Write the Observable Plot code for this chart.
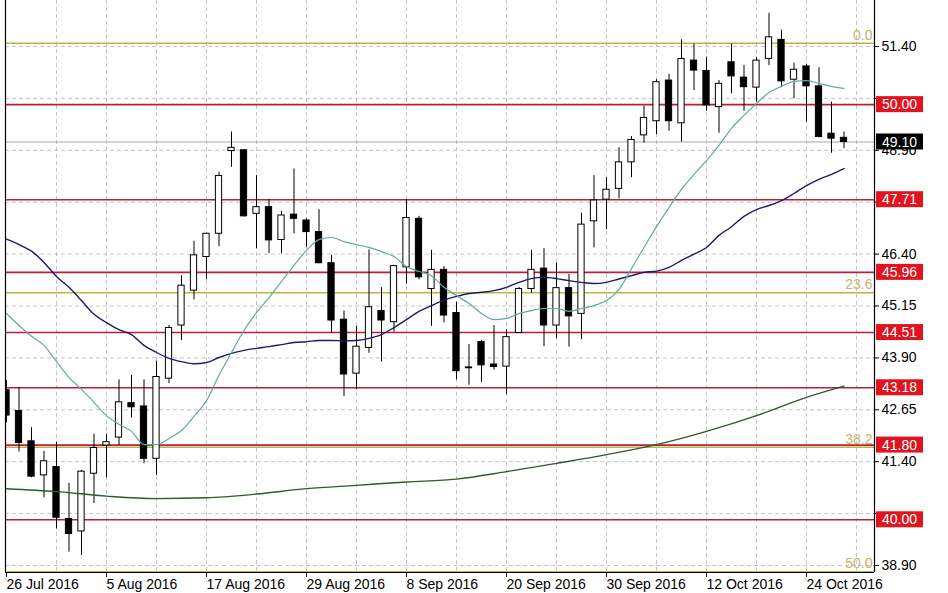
<!DOCTYPE html>
<html><head><meta charset="utf-8">
<script src="https://cdn.jsdelivr.net/npm/d3@7"></script>
<script src="https://cdn.jsdelivr.net/npm/@observablehq/plot@0.6"></script>
<style>
html,body{margin:0;padding:0;background:#fff;}
#chart{width:948px;height:593px;overflow:hidden;}
</style></head><body><div id="chart"></div>
<script>
// Daily candles, 26 Jul 2016 (index 0) .. 27 Oct 2016 (index 67)
const opens  = [43.12,42.62,41.89,41.07,41.27,40.02,39.72,41.11,41.79,41.98,42.81,42.73,41.47,43.40,44.68,45.52,46.33,46.89,48.88,48.90,47.37,47.53,46.74,47.35,47.21,46.93,46.18,44.82,43.52,44.14,45.03,44.76,46.08,47.25,45.56,46.02,44.98,43.67,44.28,43.74,43.69,44.50,45.56,46.05,44.68,45.58,44.96,47.19,47.71,47.97,48.61,49.26,49.60,50.58,49.55,51.06,50.81,49.94,51.02,50.65,50.41,51.10,51.56,50.60,50.92,50.44,49.30,49.20];
const highs  = [43.36,43.19,42.22,41.65,41.87,40.88,41.19,42.06,42.06,43.37,43.48,43.37,43.82,44.68,45.88,46.71,46.90,48.37,49.34,48.91,48.29,47.71,47.43,48.45,47.25,47.47,46.37,45.03,44.66,46.50,45.59,46.13,47.71,47.31,46.49,46.10,45.24,44.22,44.32,44.68,44.58,45.60,46.49,46.53,46.18,45.91,47.39,48.29,48.24,48.96,49.23,49.96,50.60,50.73,51.56,51.46,51.14,50.58,51.46,50.94,51.13,52.20,51.79,51.00,50.97,50.89,50.06,49.34];
const lows   = [42.34,41.63,41.01,40.53,39.78,39.22,39.14,40.39,41.01,41.79,42.45,41.35,41.07,43.28,44.32,45.30,45.78,46.58,48.49,47.29,46.53,46.41,46.41,46.89,46.57,46.17,44.50,42.97,43.13,44.01,43.80,44.52,45.68,45.78,44.66,44.74,43.37,43.24,43.31,43.61,43.02,44.50,45.46,44.17,44.36,44.16,44.34,46.55,46.99,47.73,48.24,49.07,49.28,49.36,49.10,50.34,49.84,49.31,50.26,49.84,50.06,50.94,50.41,50.14,49.58,49.20,48.83,48.94];
const closes = [42.51,41.85,41.04,41.41,40.05,39.66,41.16,41.73,41.87,42.83,42.71,41.47,43.44,44.62,45.64,46.37,46.89,48.28,48.96,47.31,47.53,46.73,47.33,47.25,46.93,46.18,44.80,43.50,44.17,45.12,44.80,46.11,47.27,45.84,46.02,44.92,43.58,43.65,43.72,43.68,44.40,45.56,46.02,44.68,45.58,44.90,47.11,47.69,47.95,48.61,49.15,49.68,50.54,49.60,51.10,50.82,49.98,50.50,50.68,50.42,51.06,51.62,50.56,50.84,50.44,49.22,49.18,49.10];

// Moving averages
const maFast = [44.97,44.68,44.42,44.20,43.81,43.43,43.14,42.83,42.51,42.30,42.13,41.81,41.81,41.96,42.15,42.49,42.87,43.48,44.03,44.56,44.99,45.35,45.74,46.13,46.49,46.75,46.80,46.70,46.63,46.56,46.46,46.34,46.10,45.98,45.88,45.60,45.40,45.21,44.97,44.82,44.85,44.97,45.04,45.09,45.09,45.02,45.09,45.16,45.28,45.55,46.05,46.56,47.06,47.52,47.96,48.32,48.65,49.02,49.43,49.74,50.03,50.29,50.44,50.56,50.58,50.51,50.44,50.39];
const maMid  = [46.76,46.63,46.47,46.20,45.86,45.60,45.28,44.95,44.75,44.58,44.46,44.20,44.03,43.89,43.81,43.76,43.79,43.91,44.01,44.08,44.13,44.17,44.22,44.27,44.29,44.32,44.32,44.31,44.32,44.37,44.46,44.63,44.82,45.02,45.16,45.29,45.38,45.45,45.48,45.52,45.60,45.72,45.81,45.84,45.81,45.76,45.72,45.69,45.72,45.80,45.88,45.96,45.99,46.08,46.25,46.40,46.56,46.85,47.06,47.31,47.47,47.57,47.69,47.86,48.05,48.20,48.32,48.46];
const maSlowIdx = [0,4,8,12,16,20,24,28,32,36,40,44,48,52,56,60,64,67];
const maSlowVal = [40.75,40.68,40.57,40.51,40.53,40.62,40.75,40.83,40.91,40.98,41.16,41.36,41.57,41.81,42.13,42.51,42.95,43.22];

// Horizontal levels
const redLevels = [50.00,47.71,45.96,44.51,43.18,41.80,40.00];
const fibValues = [51.48,45.47,41.75,38.75];
const fibLabels = ["0.0","23.6","38.2","50.0"];
const lastPrice = 49.10;

// Axes
const yTicks = [38.90,40.15,41.40,42.65,43.90,45.15,46.40,47.65,48.90,50.15,51.40];
const yHiddenLabels = [40.15,47.65,50.15]; // covered by the level tags in the reference
const xTickIdx = [0,8,16,24,32,40,48,56,64];
const xTickLabels = ["26 Jul 2016","5 Aug 2016","17 Aug 2016","29 Aug 2016","8 Sep 2016","20 Sep 2016","30 Sep 2016","12 Oct 2016","24 Oct 2016"];
const gridIdx = [4,8,12,16,20,24,28,32,36,40,44,48,52,56,60,64,68];

const bars = opens.map((o,i)=>({i, open:o, high:highs[i], low:lows[i], close:closes[i]}));
const upBars = bars.filter(d=>d.close>=d.open);
const downBars = bars.filter(d=>d.close<d.open);
const fast = maFast.map((v,i)=>({i,v}));
const mid = maMid.map((v,i)=>({i,v}));
const slow = maSlowIdx.map((i,k)=>({i, v:maSlowVal[k]}));
const fibs = fibValues.map((v,k)=>({v, label:fibLabels[k]}));
const labelByIdx = new Map(xTickIdx.map((d,k)=>[d,xTickLabels[k]]));
const fmt2 = d3.format(".2f");

const W = 948, H = 593, mL = 5, mR = 74, mT = 0, mB = 21;
const xDomain = [-0.08, 69.44];
const yDomain = [38.731, 52.508];
const hw = 0.25;
const FONT = "Liberation Sans, Arial, sans-serif";

const plot = Plot.plot({
  width: W, height: H, marginLeft: mL, marginRight: mR, marginTop: mT, marginBottom: mB,
  style: {fontFamily: FONT, fontSize: "14px", background: "#fff", color: "#000", overflow: "visible"},
  x: {type: "linear", domain: xDomain, axis: null},
  y: {type: "linear", domain: yDomain, axis: null},
  marks: [
    Plot.gridY({ticks: yTicks, stroke: "#c4c4c4", strokeOpacity: 1, strokeDasharray: "4,3"}),
    Plot.gridX({ticks: gridIdx, stroke: "#c4c4c4", strokeOpacity: 1, strokeDasharray: "4,3"}),
    Plot.ruleY([lastPrice], {stroke: "#a8a8a8", strokeWidth: 1}),
    Plot.ruleY(fibs, {y: "v", stroke: "#bdb44a", strokeWidth: 1.5, clip: true}),
    Plot.ruleY(redLevels, {stroke: "#b8203c", strokeWidth: 1.6}),
    Plot.text(fibs, {y: "v", text: "label", frameAnchor: "right", textAnchor: "end", dx: -2, dy: -8, fill: "#c8b070", fontSize: 14}),
    Plot.ruleX(bars, {x: "i", y1: "low", y2: "high", stroke: "#000", strokeWidth: 1, clip: true}),
    Plot.rect(upBars, {x1: d=>d.i-hw, x2: d=>d.i+hw, y1: "open", y2: "close", fill: "#fff", stroke: "#000", strokeWidth: 1, clip: true}),
    Plot.rect(downBars, {x1: d=>d.i-hw, x2: d=>d.i+hw, y1: "open", y2: "close", fill: "#000", stroke: "#000", strokeWidth: 1, clip: true}),
    Plot.line(slow, {x: "i", y: "v", stroke: "#2f5a2f", strokeWidth: 1.4, curve: "monotone-x", clip: true}),
    Plot.line(mid, {x: "i", y: "v", stroke: "#1c1c6a", strokeWidth: 1.4, curve: "monotone-x", clip: true}),
    Plot.line(fast, {x: "i", y: "v", stroke: "#62a8a4", strokeWidth: 1.2, curve: "monotone-x", clip: true}),
    Plot.ruleX(xDomain, {stroke: "#000", strokeWidth: 1.2}),
    Plot.ruleY([yDomain[0]], {stroke: "#000", strokeWidth: 1.2}),
    Plot.axisY({anchor: "right", label: null, ticks: yTicks, tickFormat: d => yHiddenLabels.includes(d) ? "" : fmt2(d), tickSize: 4, tickPadding: 3, fontSize: 14, stroke: "#000"}),
    Plot.axisX({anchor: "bottom", label: null, ticks: xTickIdx, tickFormat: d=>labelByIdx.get(d), tickSize: 5, tickPadding: 2, textAnchor: "start", dx: 0, fontSize: 14, stroke: "#000"})
  ]
});

// Price tags in the right margin, positioned through Plot's y scale
const yS = plot.scale("y");
const frameRight = W - mR;
const g = d3.select(plot).append("g").attr("font-family", FONT).attr("font-size", 14);
function tag(v, bg) {
  const yy = yS.apply(v);
  g.append("rect").attr("x", frameRight + 2).attr("y", yy - 8).attr("width", 47).attr("height", 16).attr("fill", bg);
  g.append("text").attr("x", frameRight + 25.5).attr("y", yy).attr("dy", "0.36em").attr("text-anchor", "middle").attr("fill", "#fff").text(v.toFixed(2));
}
redLevels.forEach(v => tag(v, "#e0141e"));
tag(lastPrice, "#000");

document.getElementById("chart").appendChild(plot);
</script></body></html>
